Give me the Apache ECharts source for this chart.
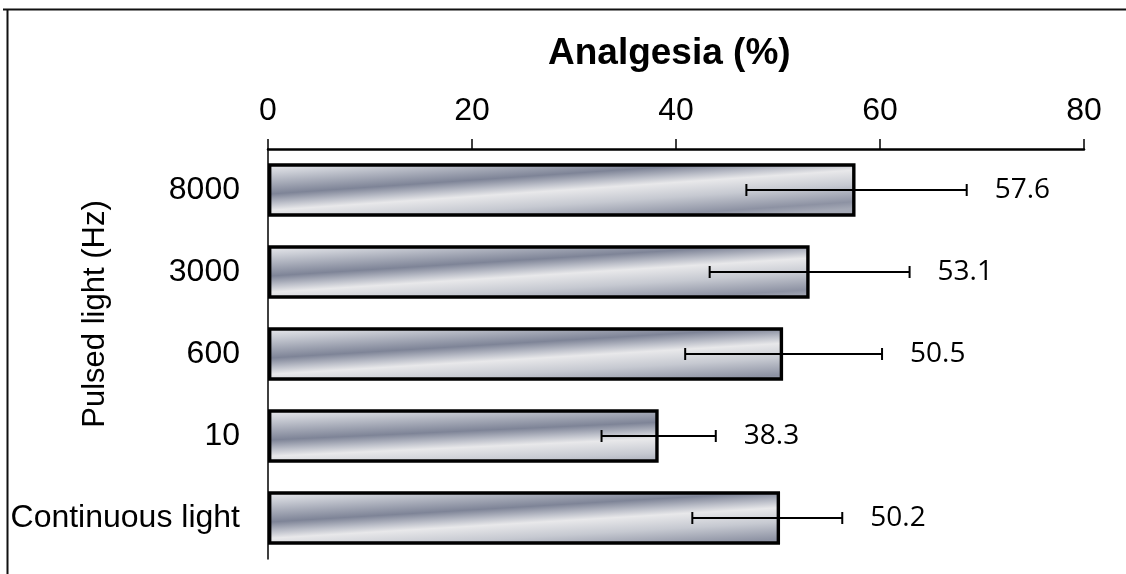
<!DOCTYPE html>
<html>
<head>
<meta charset="utf-8">
<script src="https://cdn.jsdelivr.net/npm/echarts@6/dist/echarts.min.js"></script>
<style>
html,body{margin:0;padding:0;background:#fff;}
#chart{width:1126px;height:574px;}
</style>
</head>
<body>
<div id="chart"></div>
<script>
const categories = ['8000', '3000', '600', '10', 'Continuous light'];
const values = [57.6, 53.1, 50.5, 38.3, 50.2];
const errMinus = [10.7, 9.8, 9.6, 5.6, 8.6];
const errPlus = [10.9, 9.8, 9.7, 5.6, 6.1];
const xTicks = [0, 20, 40, 60, 80];
const chartTitle = 'Analgesia (%)';
const yTitle = 'Pulsed light (Hz)';

const chart = echarts.init(document.getElementById('chart'), null, {renderer: 'canvas'});

const barGradient = {
  type: 'linear', x: 0, y: 0, x2: 0.01, y2: 1.6,
  colorStops: [
    {offset: 0, color: '#eeeef1'},
    {offset: 0.12, color: '#cacdd5'},
    {offset: 0.36, color: '#7e8497'},
    {offset: 0.47, color: '#bcbfc9'},
    {offset: 0.55, color: '#e8e8ea'},
    {offset: 0.72, color: '#c6c9d1'},
    {offset: 0.92, color: '#8d92a3'},
    {offset: 1, color: '#a5a9b6'}
  ]
};

const errData = values.map((v, i) => [i, v - errMinus[i], v + errPlus[i], v]);
const FONT = 'Liberation Sans, Arial, sans-serif';

const option = {
  backgroundColor: '#fff',
  animation: false,
  title: {
    text: chartTitle,
    left: 543, top: 30,
    textStyle: {fontFamily: FONT, fontWeight: 'bold', fontSize: 37, color: '#000'}
  },
  grid: {left: 268, right: 42, top: 149, bottom: 15, containLabel: false},
  xAxis: {
    type: 'value', position: 'top',
    min: xTicks[0], max: xTicks[xTicks.length - 1], interval: xTicks[1] - xTicks[0],
    axisLine: {show: true, lineStyle: {color: '#000', width: 2.5}},
    axisTick: {show: true, inside: false, length: 10, lineStyle: {color: '#000', width: 1.5}},
    axisLabel: {margin: 22, fontFamily: FONT, fontSize: 32, color: '#000'},
    splitLine: {show: false}
  },
  yAxis: {
    type: 'category', data: categories, inverse: true,
    axisLine: {show: true, lineStyle: {color: '#000', width: 1.5}},
    axisTick: {show: false},
    axisLabel: {margin: 28, fontFamily: FONT, fontSize: 32, color: '#000'},
    splitLine: {show: false}
  },
  graphic: [
    {type: 'line', shape: {x1: 3, y1: 9.5, x2: 1126, y2: 9.5}, style: {stroke: '#111', lineWidth: 2}, z: 10},
    {type: 'line', shape: {x1: 7.5, y1: 9, x2: 7.5, y2: 574}, style: {stroke: '#111', lineWidth: 2}, z: 10},
    {type: 'text', x: 95, y: 314, rotation: Math.PI / 2,
     style: {text: yTitle, font: '31px "Liberation Sans", Arial, sans-serif', fill: '#000', textAlign: 'center', textVerticalAlign: 'middle'}}
  ],
  series: [
    {
      type: 'bar',
      data: values,
      barWidth: '65%',
      itemStyle: {color: barGradient, borderColor: '#000', borderWidth: 3.4},
      z: 2
    },
    {
      type: 'custom',
      data: errData,
      encode: {x: [1, 2], y: 0},
      z: 5,
      renderItem: function (params, api) {
        const idx = api.value(0);
        const lo = api.coord([api.value(1), idx]);
        const hi = api.coord([api.value(2), idx]);
        const cap = 6;
        const st = {stroke: '#000', lineWidth: 2};
        return {
          type: 'group',
          children: [
            {type: 'line', shape: {x1: lo[0], y1: lo[1], x2: hi[0], y2: hi[1]}, style: st},
            {type: 'line', shape: {x1: lo[0], y1: lo[1] - cap, x2: lo[0], y2: lo[1] + cap}, style: st},
            {type: 'line', shape: {x1: hi[0], y1: hi[1] - cap, x2: hi[0], y2: hi[1] + cap}, style: st},
            {type: 'text', x: hi[0] + 28, y: hi[1],
             style: {text: api.value(3).toFixed(1), font: '28px "Open Sans", sans-serif', fill: '#000', textAlign: 'left', textVerticalAlign: 'middle'}}
          ]
        };
      }
    }
  ]
};
chart.setOption(option);
</script>
</body>
</html>
